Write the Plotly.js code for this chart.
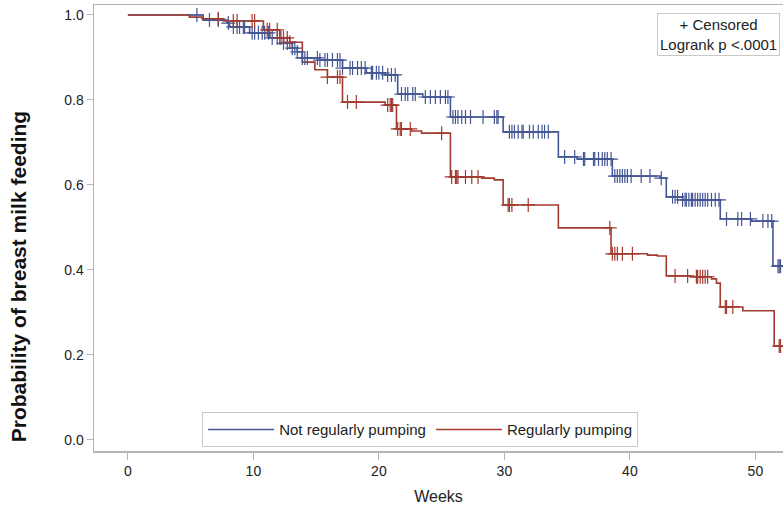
<!DOCTYPE html>
<html>
<head>
<meta charset="utf-8">
<script src="https://cdn.plot.ly/plotly-3.0.1.min.js"></script>
<style>
  html, body { margin: 0; padding: 0; background: #fff; }
  #chart { width: 783px; height: 512px; }
</style>
</head>
<body>
<div id="chart"></div>
<script>
// ---- Data ----
const groupNames = ["Not regularly pumping", "Regularly pumping"];

// Step survival estimates: event time (weeks) and survival after that time
const notPumpTimes = [0, 6.0, 7.9, 8.1, 9.7, 11.3, 12.4, 13.1, 13.5, 13.9, 15.3, 17.1, 19.0, 20.5, 21.5, 23.5, 25.7, 29.9, 34.3, 35.8, 38.6, 42.4, 42.9, 44.2, 47.2, 49.7, 51.4];
const notPumpSurv  = [1.0, 0.988, 0.981, 0.972, 0.958, 0.946, 0.934, 0.922, 0.913, 0.899, 0.894, 0.875, 0.864, 0.859, 0.814, 0.807, 0.760, 0.725, 0.666, 0.661, 0.621, 0.616, 0.572, 0.565, 0.520, 0.515, 0.409];
const notPumpCensored = [5.5, 6.5, 7.2, 8.0, 8.4, 8.7, 8.9, 9.2, 9.3, 9.9, 10.1, 10.4, 10.7, 10.9, 11.2, 11.5, 11.9, 12.1, 12.4, 12.7, 13.1, 13.3, 13.5, 13.9, 14.1, 14.3, 15.1, 15.3, 15.7, 15.9, 16.3, 16.7, 16.9, 17.1, 17.7, 17.9, 18.3, 18.6, 18.9, 19.4, 19.5, 19.8, 20.0, 20.3, 20.7, 21.0, 21.3,
  21.8, 22.1, 22.3, 22.7, 22.9, 23.7, 24.1, 24.5, 24.9, 25.3, 25.5,
  25.9, 26.1, 26.3, 26.6, 26.9, 27.3, 28.3, 29.2, 29.4, 29.5,
  30.4, 30.6, 30.8, 31.1, 31.4, 31.5, 32.0, 32.3, 32.7, 33.0, 33.2, 33.5,
  34.8, 35.6, 36.3, 36.4, 37.1, 37.2, 37.5, 37.8, 38.0, 38.2, 38.5,
  38.8, 39.0, 39.2, 39.4, 39.6, 39.8, 40.1, 40.9, 41.6, 42.5,
  43.4, 43.6, 43.8, 44.2, 44.4, 44.5, 44.7, 44.9, 45.0, 45.2, 45.4, 45.6, 45.8, 46.0, 46.2, 46.5, 46.8, 47.1,
  47.7, 48.6, 48.9, 49.6, 50.6, 51.0, 51.3, 51.8, 51.9, 52.0];
const notPumpEnd = 53;

const pumpTimes = [0, 4.9, 5.9, 7.6, 10.8, 12.1, 12.9, 13.9, 14.9, 15.9, 17.1, 20.5, 21.4, 22.6, 23.4, 25.7, 28.2, 29.2, 29.9, 34.3, 38.5, 41.4, 42.2, 42.9, 44.8, 46.5, 46.9, 47.2, 49.0, 51.5];
const pumpSurv  = [1.0, 0.995, 0.991, 0.986, 0.965, 0.946, 0.936, 0.889, 0.871, 0.854, 0.795, 0.788, 0.732, 0.727, 0.722, 0.619, 0.616, 0.612, 0.553, 0.499, 0.438, 0.435, 0.433, 0.386, 0.384, 0.379, 0.369, 0.313, 0.304, 0.221];
const pumpCensored = [7.2, 8.4, 8.7, 9.9, 10.1, 11.1, 11.3, 11.9, 12.2, 12.4, 12.7, 12.9, 15.9, 16.7, 16.9, 17.5, 18.2,
  20.7, 20.9, 21.0, 21.1, 21.5, 21.7, 21.8, 22.5, 25.0,
  25.8, 26.1, 26.2, 26.3, 26.9, 27.4, 27.9,
  30.3, 30.4, 30.6, 31.9, 38.4,
  38.6, 38.8, 39.0, 39.4, 40.2,
  43.6, 44.6, 45.3, 45.4, 45.6, 45.8, 46.0, 46.2,
  47.6, 47.7, 48.2, 51.9, 52.0];
const pumpEnd = 53;

const xTicks = [0, 10, 20, 30, 40, 50];
const yTicks = [0.0, 0.2, 0.4, 0.6, 0.8, 1.0];
const yTitle = "Probability of breast milk feeding";
const boxText = "+ Censored<br>Logrank p <.0001";

// ---- Styling ----
const colors = ["#445694", "#A23A2E"];
const FONT = "Liberation Sans, Arial, Helvetica, sans-serif";

function survAt(times, surv, t) {
  let s = surv[0];
  for (let i = 0; i < times.length; i++) { if (times[i] <= t) s = surv[i]; else break; }
  return s;
}
function stepTrace(times, surv, end, name, color) {
  return {
    x: times.concat([end]), y: surv.concat([surv[surv.length - 1]]),
    type: "scatter", mode: "lines", line: { shape: "hv", color: color, width: 1.6 },
    name: name, hoverinfo: "skip"
  };
}
function censTrace(times, surv, cens, color) {
  return {
    x: cens, y: cens.map(t => survAt(times, surv, t)),
    type: "scatter", mode: "markers", showlegend: false, hoverinfo: "skip",
    marker: { symbol: "cross-thin", size: 10, line: { color: color, width: 1.2 }, color: color }
  };
}

const data = [
  stepTrace(notPumpTimes, notPumpSurv, notPumpEnd, groupNames[0], colors[0]),
  stepTrace(pumpTimes, pumpSurv, pumpEnd, groupNames[1], colors[1]),
  censTrace(notPumpTimes, notPumpSurv, notPumpCensored, colors[0]),
  censTrace(pumpTimes, pumpSurv, pumpCensored, colors[1])
];

const layout = {
  width: 783, height: 512,
  margin: { l: 94, r: 0, t: 5, b: 61 },
  paper_bgcolor: "#ffffff", plot_bgcolor: "#ffffff",
  font: { family: FONT, size: 13, color: "#333333" },
  showlegend: true,
  legend: {
    orientation: "h", x: 0.157, y: 0.087, xanchor: "left", yanchor: "top",
    bordercolor: "#c8c8c8", borderwidth: 1, bgcolor: "#ffffff", itemwidth: 66,
    font: { family: FONT, size: 15, color: "#222" }, traceorder: "normal"
  },
  xaxis: {
    range: [-2.7, 52.2], tickvals: xTicks, ticktext: xTicks.map(String),
    showgrid: false, zeroline: false, showline: true, mirror: true,
    linecolor: "#b4b4b4", linewidth: 1.5,
    ticks: "outside", ticklen: 7, tickcolor: "#b4b4b4",
    tickfont: { family: FONT, size: 14, color: "#222" },
    title: { text: "Weeks", font: { family: FONT, size: 16, color: "#222" }, standoff: 12 }
  },
  yaxis: {
    range: [-0.026, 1.0235], tickvals: yTicks, ticktext: yTicks.map(v => v.toFixed(1)),
    showgrid: false, zeroline: false, showline: true, mirror: false,
    linecolor: "#b4b4b4", linewidth: 1.5,
    ticks: "outside", ticklen: 6, tickcolor: "#b4b4b4",
    tickfont: { family: FONT, size: 14, color: "#222" }
  },
  annotations: [{
    xref: "paper", yref: "paper", x: 0.906, y: 0.982, xanchor: "center", yanchor: "top",
    text: boxText, showarrow: false, align: "center",
    font: { family: FONT, size: 15, color: "#222" },
    bordercolor: "#c8c8c8", borderwidth: 1, borderpad: 2, bgcolor: "#ffffff"
  }, {
    xref: "paper", yref: "paper", x: -0.110, y: 0.39, xanchor: "center", yanchor: "middle",
    text: "<b>" + yTitle + "</b>", textangle: -90, showarrow: false,
    font: { family: FONT, size: 21, color: "#111" }
  }]
};

Plotly.newPlot("chart", data, layout, { displayModeBar: false, staticPlot: true });
</script>
</body>
</html>
